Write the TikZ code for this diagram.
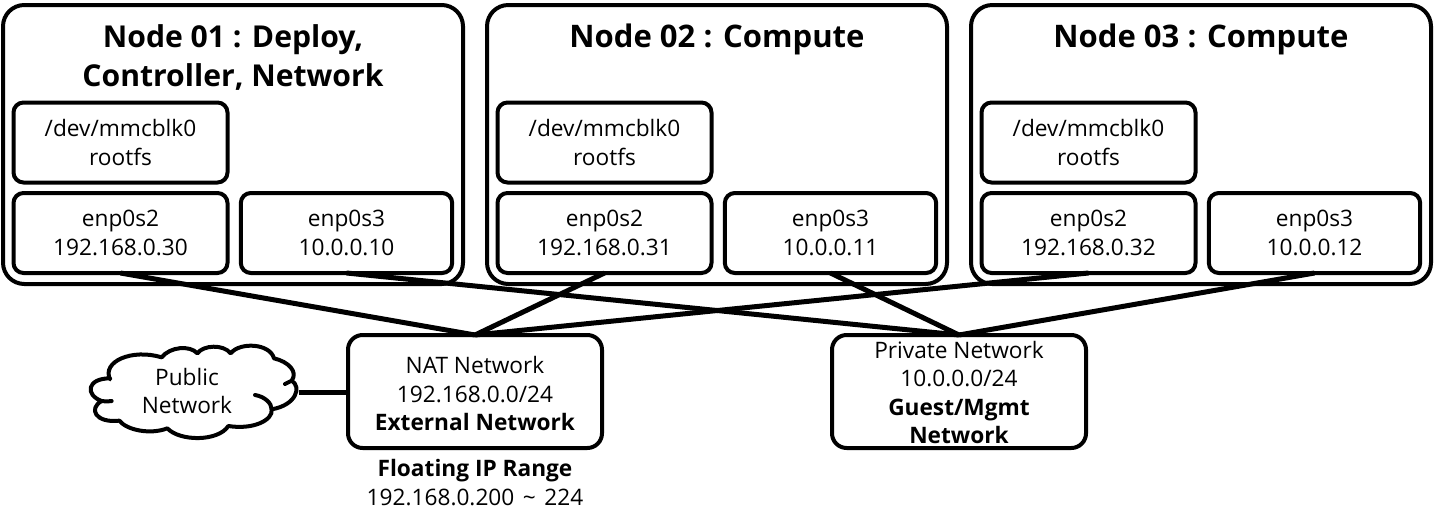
\documentclass[tikz,border=0pt]{standalone}
\usepackage{fontspec}
\setmainfont{Open Sans}
\begin{document}
\begin{tikzpicture}[x=0.75pt,y=-0.75pt,
  box/.style={draw=black,rounded corners=7.5pt,line width=3pt,outer sep=0pt,inner sep=0pt,align=center,font=\fontsize{17}{21.4}\selectfont},
  outerbox/.style={draw=black,rounded corners=16pt,line width=3pt,outer sep=0pt,minimum width=345pt,minimum height=209.25pt},
  smallbox/.style={box,minimum height=60pt},
  netbox/.style={box,rounded corners=11pt,minimum width=190.5pt,minimum height=84.75pt},
  title/.style={inner sep=0pt,align=center,font=\fontsize{23.3}{29.3}\selectfont\bfseries},
  plain/.style={inner sep=0pt,align=center,font=\fontsize{17}{21.4}\selectfont},
  link/.style={line width=3.75pt,black}]
\useasboundingbox (0,0) rectangle (1436,514);
\node[outerbox] (n1) at (233,144.5) {};
\node[outerbox] (n2) at (717,144.5) {};
\node[outerbox] (n3) at (1201,144.5) {};
\node[title,font=\fontsize{22.6}{29.3}\selectfont\bfseries] (t1) at (233,57.5) {Node 01 : Deploy,\\Controller, Network};
\node[title] (t2) at (717,39) {Node 02 : Compute};
\node[title] (t3) at (1201,39) {Node 03 : Compute};
\foreach \i/\dx/\a/\b in {1/0/30/10,2/484/31/11,3/968/32/12}{
  \node[smallbox,minimum width=160.5pt] (r\i) at (120.5+\dx,142.5) {/dev/mmcblk0\\rootfs};
  \node[smallbox,minimum width=160.5pt] (a\i) at (120.5+\dx,233) {enp0s2\\192.168.0.\a};
  \node[smallbox,minimum width=158.5pt] (b\i) at (346.5+\dx,233) {enp0s3\\10.0.0.\b};
}
\node[netbox] (nat) at (475,391.5) {};
\node[plain] (nattext) at (475,393.5) {NAT Network\\192.168.0.0/24\\\textbf{External Network}};
\node[netbox] (priv) at (959,391.5) {};
\node[plain] (privtext) at (959,392.5) {Private Network\\10.0.0.0/24\\\textbf{Guest/Mgmt}\\\textbf{Network}};
\node[plain] (range) at (475,482.5) {\textbf{Floating IP Range}\\192.168.0.200\hspace{2pt} \textasciitilde{} \hspace{2pt}224};
\draw[link] (a1.south) -- (nat.north);
\draw[link] (a2.south) -- (nat.north);
\draw[link] (a3.south) -- (nat.north);
\draw[link] (b1.south) -- (priv.north);
\draw[link] (b2.south) -- (priv.north);
\draw[link] (b3.south) -- (priv.north);
\begin{scope}[shift={(60,320)},x=0.25pt,y=-0.25pt,line width=3pt,line cap=round,line join=round]
  \draw[fill=white]
    (150,178) .. controls (125,125) and (215,85) .. (305,112)
    .. controls (330,80) and (390,75) .. (412,100)
    .. controls (430,75) and (490,72) .. (512,100)
    .. controls (540,65) and (630,70) .. (642,115)
    .. controls (685,125) and (715,155) .. (695,182)
    .. controls (725,200) and (710,255) .. (635,268)
    .. controls (640,300) and (580,330) .. (505,318)
    .. controls (475,365) and (360,365) .. (322,325)
    .. controls (270,345) and (200,330) .. (178,302)
    .. controls (105,310) and (85,265) .. (125,243)
    .. controls (75,225) and (80,175) .. (150,175) -- cycle;
  \draw (695,182) -- (675,192);
  \draw (125,243) .. controls (135,245) and (145,245) .. (155,243);
  \draw (585,225) .. controls (615,230) and (635,250) .. (635,268);
\end{scope}
\node[plain] (pub) at (187,391) {Public\\Network};
\coordinate (cloudedge) at (299,392);
\draw[link] (cloudedge) -- (nat.west |- cloudedge);
\end{tikzpicture}
\end{document}
